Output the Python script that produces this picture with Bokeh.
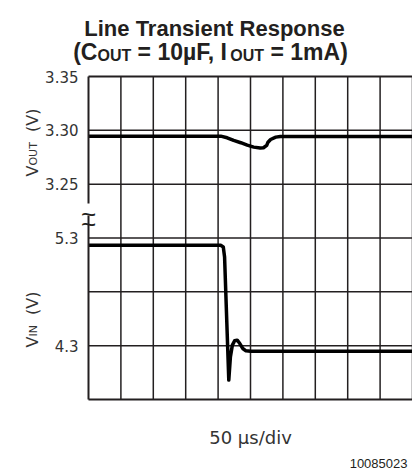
import math
from bokeh.plotting import figure
from bokeh.models import Range1d
from bokeh.core.properties import value
from bokeh.embed import file_html
from bokeh.resources import INLINE

# ---------------- data ----------------
title_line1 = "Line Transient Response"
title_line2_parts = [("(C", False), ("OUT", True), (" = 10µF, I", False),
                     ("OUT", True), (" = 1mA)", False)]
x_axis_label = "50 µs/div"
figure_id = "10085023"
vout_label_parts = [("V", False), ("OUT", True), ("  (V)", False)]
vin_label_parts = [("V", False), ("IN", True), ("  (V)", False)]

# time in microseconds (50 us / div, 10 divisions)
t_out_us = [0, 204, 214, 224, 235, 245, 255, 265, 270, 275, 277, 281, 289, 296, 500]
v_out = [3.2946, 3.2946, 3.2931, 3.2906, 3.2885, 3.2862, 3.2844, 3.2835, 3.2838,
         3.2860, 3.2890, 3.2915, 3.2937, 3.2943, 3.2943]

t_in_us = [0, 204, 208, 210, 216.5, 219, 222, 225.5, 229.5, 233.5, 238, 243, 250, 500]
v_in = [5.232, 5.232, 5.217, 5.124, 3.98, 4.196, 4.305, 4.345, 4.351, 4.32,
        4.274, 4.252, 4.249, 4.249]

vout_ticks = [3.35, 3.30, 3.25]
vout_tick_labels = ["3.35", "3.30", "3.25"]
vin_ticks = [5.3, 4.3]
vin_tick_labels = ["5.3", "4.3"]

t_start, t_end, t_div = 0, 500, 50
vout_lo, vout_hi = 3.05, 3.35
vin_lo, vin_hi = 3.8, 6.8
n_ydiv = 6

# ---------------- layout (canvas pixels) ----------------
INK = "#231f20"
TXT = "#333333"
W, H = 412, 472
FL, FR, FT, FB = 88, 412, 76, 399   # plot-area edges in canvas pixels


def span(lo, hi, p_lo, p_hi, p_min, p_max):
    """Range whose [lo, hi] lands on pixels [p_lo, p_hi] of a [p_min, p_max] frame."""
    k = (hi - lo) / (p_hi - p_lo)
    return Range1d(lo - (p_lo - p_min) * k, hi + (p_max - p_hi) * k)


x_rng = span(t_start, t_end, FL, FR, 0, W)
y_rng = span(vout_lo, vout_hi, H - FB, H - FT, 0, H)
vin_rng = span(vin_lo, vin_hi, H - FB, H - FT, 0, H)

p = figure(width=W, height=H, output_backend="svg", toolbar_location=None,
           x_range=x_rng, y_range=y_rng, min_border=0,
           x_axis_type=None, y_axis_type=None)
p.outline_line_color = None
p.grid.visible = False
p.background_fill_color = "white"
p.border_fill_color = "white"
p.extra_y_ranges = {"vin": vin_rng, "px": Range1d(H, 0)}
p.extra_x_ranges = {"px": Range1d(0, W)}

# ---------------- grid ----------------
xticks = list(range(t_start, t_end + 1, t_div))
ygrid = [round(vout_lo + k * (vout_hi - vout_lo) / n_ydiv, 6) for k in range(n_ydiv + 1)]
gx = xticks[1:]
p.segment(x0=gx, y0=[vout_lo] * len(gx), x1=gx, y1=[vout_hi] * len(gx),
          line_color=INK, line_width=1.5)
gy = ygrid[1:-1]
p.segment(x0=[t_start] * len(gy), y0=gy, x1=[t_end] * len(gy), y1=gy,
          line_color=INK, line_width=1.5)

# ---------------- traces ----------------
p.line(t_out_us, v_out, line_color="black", line_width=3.5, line_join="round")
p.line(t_in_us, v_in, line_color="black", line_width=3.5, line_join="round",
       y_range_name="vin")

# ---------------- frame border (left side broken by the scale change) -----
p.segment(x0=[t_start, t_start], y0=[vout_lo, vout_hi], x1=[t_end, t_end],
          y1=[vout_lo, vout_hi], line_color=INK, line_width=2)
BRK0, BRK1 = 203, 215
p.segment(x0=[FL, FL], y0=[FT, BRK1], x1=[FL, FL], y1=[BRK0, FB],
          line_color=INK, line_width=2, x_range_name="px", y_range_name="px")


def txt(x, y, s, size, font="DejaVu Sans", style="normal", align="left",
        baseline="alphabetic", angle=0.0, color=TXT, xr="px", yr="px"):
    p.text(x=[x], y=[y], text=[s], text_font=value(font),
           text_font_size=value(f"{size}px"), text_font_style=style,
           text_align=align, text_baseline=baseline, angle=angle,
           text_color=color, x_range_name=xr, y_range_name=yr)


def width(s, table, size):
    return sum(table.get(c, 600) for c in s) / 1000 * size


# break marks (two tildes straddling the left border)
txt(FL, BRK0 + 10, "~", 26, font="Liberation Sans", align="center", color=INK)
txt(FL, BRK1 + 8, "~", 26, font="Liberation Sans", align="center", color=INK)

# y tick labels (placed through the V_OUT and V_IN scales)
for v, s in zip(vout_ticks, vout_tick_labels):
    txt(FL - 10, v, s, 15, align="right", baseline="middle", yr="default")
for v, s in zip(vin_ticks, vin_tick_labels):
    txt(FL - 10, v, s, 15, align="right", baseline="middle", yr="vin")

# x axis label
txt((FL + FR) / 2, 437, x_axis_label, 18, align="center")

# title
ARIAL_B = {'(': 333, ')': 333, 'C': 722, 'O': 778, 'U': 722, 'T': 611, ' ': 278,
           '=': 584, '1': 556, '0': 556, 'µ': 611, 'F': 611, ',': 278, 'I': 278,
           'm': 889, 'A': 722}
MAIN, SUB = 23, 16
txt(214, 28, title_line1, 22, font="Liberation Sans", style="bold",
    align="center", color=INK)
total = sum(width(s, ARIAL_B, SUB if sub else MAIN) for s, sub in title_line2_parts)
x = 210 - total / 2
for s, sub in title_line2_parts:
    size = SUB if sub else MAIN
    lead = s[:len(s) - len(s.lstrip())]
    txt(x + width(lead, ARIAL_B, size), 55 if sub else 51, s.strip(), size,
        font="Liberation Sans", style="bold", color=INK)
    x += width(s, ARIAL_B, size)

# rotated y labels
DJV = {'V': 684, 'O': 787, 'U': 732, 'T': 611, 'I': 295, 'N': 748, ' ': 318,
       '(': 390, ')': 390}


def vlabel(parts, y_start):
    y = y_start
    for s, sub in parts:
        size = 11 if sub else 16
        lead = s[:len(s) - len(s.lstrip())]
        txt(33 if sub else 32, y - width(lead, DJV, size), s.strip(), size,
            angle=math.pi / 2)
        y -= width(s, DJV, size)


vlabel(vout_label_parts, 176)
vlabel(vin_label_parts, 347)

# figure id
txt(407, 463, figure_id, 13, font="Liberation Sans", align="right", color=INK)

open("out.html", "w").write(file_html(p, INLINE))
